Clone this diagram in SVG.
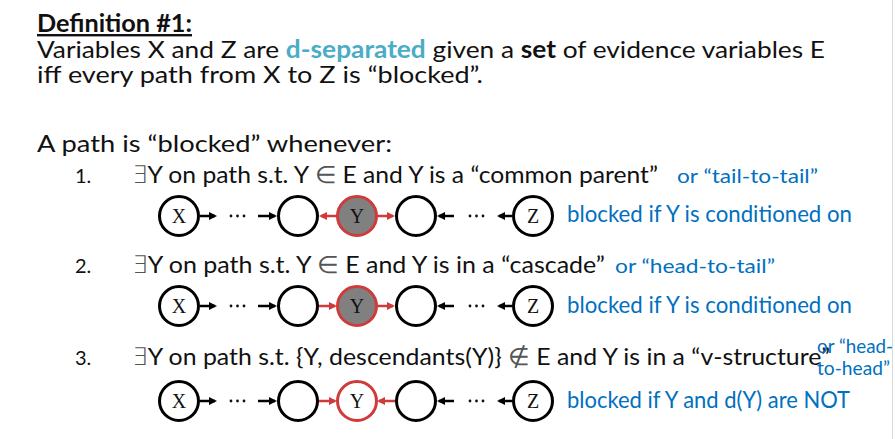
<svg xmlns="http://www.w3.org/2000/svg" width="895" height="439" viewBox="0 0 895 439">
  <style>
    .body { font-family: Lato, "Open Sans", "DejaVu Sans", sans-serif; font-size: 24px; fill: #111; }
    .num { font-family: Lato, "Open Sans", sans-serif; font-size: 20px; fill: #111; }
    .note { font-family: Lato, "Open Sans", sans-serif; fill: #0070c0; }
    .sym { font-family: "DejaVu Sans", sans-serif; fill: #555; font-weight: 300; }
    .teal { fill: #4bacc6; font-weight: bold; }
    .bold { font-weight: bold; }
    .node { fill: #fff; stroke: #000; stroke-width: 3; }
    .ynode { fill: #808080; stroke: #cf3a3a; stroke-width: 3; }
    .yopen { fill: #fff; stroke: #cf3a3a; stroke-width: 3; }
    .lbl { font-family: "Liberation Serif", "Times New Roman", serif; font-size: 20px; fill: #111; text-anchor: middle; }
    .edge { stroke: #000; stroke-width: 2.5; fill: none; marker-end: url(#headBlack); }
    .redge { stroke: #cf3a3a; stroke-width: 2.5; fill: none; marker-end: url(#headRed); }
    .dot { fill: #111; }
  </style>
  <defs>
    <marker id="headBlack" markerUnits="userSpaceOnUse" markerWidth="9" markerHeight="9" refX="6" refY="4" orient="auto">
      <path d="M0,0 L8,4 L0,8 z" fill="#000"/>
    </marker>
    <marker id="headRed" markerUnits="userSpaceOnUse" markerWidth="9" markerHeight="9" refX="6" refY="4" orient="auto">
      <path d="M0,0 L8,4 L0,8 z" fill="#cf3a3a"/>
    </marker>
    <g id="dots">
      <circle class="dot" cx="0" cy="0" r="1.4"/>
      <circle class="dot" cx="6.5" cy="0" r="1.4"/>
      <circle class="dot" cx="13" cy="0" r="1.4"/>
    </g>
  </defs>

  <rect width="895" height="439" fill="#fff"/>
  <line x1="892.5" y1="0" x2="892.5" y2="439" stroke="#d9d9d9" stroke-width="1"/>

  <!-- definition -->
  <text class="body bold" x="37" y="32" font-size="24" text-decoration="underline" textLength="155" lengthAdjust="spacingAndGlyphs">Definition #1:</text>
  <text class="body" x="37" y="58" font-size="23" textLength="788" lengthAdjust="spacingAndGlyphs">Variables X and Z are <tspan class="teal">d-separated</tspan> given a <tspan class="bold">set</tspan> of evidence variables E</text>
  <text class="body" x="37" y="83" font-size="23" textLength="446" lengthAdjust="spacingAndGlyphs">iff every path from X to Z is “blocked”.</text>

  <text class="body" x="37" y="152" textLength="355" lengthAdjust="spacingAndGlyphs">A path is “blocked” whenever:</text>

  <!-- condition 1 -->
  <text class="num" x="75" y="183">1.</text>
  <text class="body" x="132" y="183" textLength="526" lengthAdjust="spacingAndGlyphs"><tspan class="sym">∃</tspan>Y on path s.t. Y <tspan class="sym">∈</tspan> E and Y is a “common parent”</text>
  <text class="note" x="677" y="183" font-size="20" textLength="141" lengthAdjust="spacingAndGlyphs">or “tail-to-tail”</text>

  <!-- condition 2 -->
  <text class="num" x="75" y="273">2.</text>
  <text class="body" x="132" y="273" textLength="473" lengthAdjust="spacingAndGlyphs"><tspan class="sym">∃</tspan>Y on path s.t. Y <tspan class="sym">∈</tspan> E and Y is in a “cascade”</text>
  <text class="note" x="615" y="273" font-size="20" textLength="160" lengthAdjust="spacingAndGlyphs">or “head-to-tail”</text>

  <!-- condition 3 -->
  <text class="num" x="75" y="365">3.</text>
  <text class="body" x="132" y="365" textLength="698" lengthAdjust="spacingAndGlyphs"><tspan class="sym">∃</tspan>Y on path s.t. {Y, descendants(Y)} <tspan class="sym">∉</tspan> E and Y is in a “v-structure”</text>
  <text class="note" x="817" y="353" font-size="19" textLength="76" lengthAdjust="spacingAndGlyphs">or “head-</text>
  <text class="note" x="817" y="375" font-size="19" textLength="73" lengthAdjust="spacingAndGlyphs">to-head”</text>

  <!-- side notes -->
  <text class="note" x="567" y="222" font-size="23" textLength="285" lengthAdjust="spacingAndGlyphs">blocked if Y is conditioned on</text>
  <text class="note" x="567" y="313" font-size="23" textLength="285" lengthAdjust="spacingAndGlyphs">blocked if Y is conditioned on</text>
  <text class="note" x="567" y="408" font-size="23" textLength="283" lengthAdjust="spacingAndGlyphs">blocked if Y and d(Y) are NOT</text>

  <!-- connectors -->
  <g id="connectors">
    <!-- chain 1: common parent -->
    <line class="edge" x1="200" y1="216" x2="215" y2="216"/>
    <use href="#dots" x="231" y="216"/>
    <line class="edge" x1="258" y1="216" x2="275" y2="216"/>
    <line class="redge" x1="337" y1="216" x2="321" y2="216"/>
    <line class="redge" x1="377" y1="216" x2="393" y2="216"/>
    <line class="edge" x1="454" y1="216" x2="439" y2="216"/>
    <use href="#dots" x="470" y="216"/>
    <line class="edge" x1="512" y1="216" x2="499" y2="216"/>
    <!-- chain 2: cascade -->
    <line class="edge" x1="200" y1="306" x2="215" y2="306"/>
    <use href="#dots" x="231" y="306"/>
    <line class="edge" x1="258" y1="306" x2="275" y2="306"/>
    <line class="redge" x1="319" y1="306" x2="335" y2="306"/>
    <line class="redge" x1="377" y1="306" x2="393" y2="306"/>
    <line class="edge" x1="454" y1="306" x2="439" y2="306"/>
    <use href="#dots" x="470" y="306"/>
    <line class="edge" x1="512" y1="306" x2="499" y2="306"/>
    <!-- chain 3: v-structure -->
    <line class="edge" x1="200" y1="401" x2="215" y2="401"/>
    <use href="#dots" x="231" y="401"/>
    <line class="edge" x1="258" y1="401" x2="275" y2="401"/>
    <line class="redge" x1="319" y1="401" x2="335" y2="401"/>
    <line class="redge" x1="395" y1="401" x2="379" y2="401"/>
    <line class="edge" x1="454" y1="401" x2="439" y2="401"/>
    <use href="#dots" x="470" y="401"/>
    <line class="edge" x1="512" y1="401" x2="499" y2="401"/>
  </g>

  <!-- chain 1 nodes -->
  <g id="x1"><circle class="node" cx="179" cy="216" r="19.5"/><text class="lbl" x="179" y="223">X</text></g>
  <g id="a1"><circle class="node" cx="298" cy="216" r="19.5"/></g>
  <g id="y1"><circle class="ynode" cx="357" cy="216" r="19.5"/><text class="lbl" x="357" y="223">Y</text></g>
  <g id="b1"><circle class="node" cx="416" cy="216" r="19.5"/></g>
  <g id="z1"><circle class="node" cx="533" cy="216" r="19.5"/><text class="lbl" x="533" y="223">Z</text></g>

  <!-- chain 2 nodes -->
  <g id="x2"><circle class="node" cx="179" cy="306" r="19.5"/><text class="lbl" x="179" y="313">X</text></g>
  <g id="a2"><circle class="node" cx="298" cy="306" r="19.5"/></g>
  <g id="y2"><circle class="ynode" cx="357" cy="306" r="19.5"/><text class="lbl" x="357" y="313">Y</text></g>
  <g id="b2"><circle class="node" cx="416" cy="306" r="19.5"/></g>
  <g id="z2"><circle class="node" cx="533" cy="306" r="19.5"/><text class="lbl" x="533" y="313">Z</text></g>

  <!-- chain 3 nodes -->
  <g id="x3"><circle class="node" cx="179" cy="401" r="19.5"/><text class="lbl" x="179" y="408">X</text></g>
  <g id="a3"><circle class="node" cx="298" cy="401" r="19.5"/></g>
  <g id="y3"><circle class="yopen" cx="357" cy="401" r="19.5"/><text class="lbl" x="357" y="408">Y</text></g>
  <g id="b3"><circle class="node" cx="416" cy="401" r="19.5"/></g>
  <g id="z3"><circle class="node" cx="533" cy="401" r="19.5"/><text class="lbl" x="533" y="408">Z</text></g>
</svg>
